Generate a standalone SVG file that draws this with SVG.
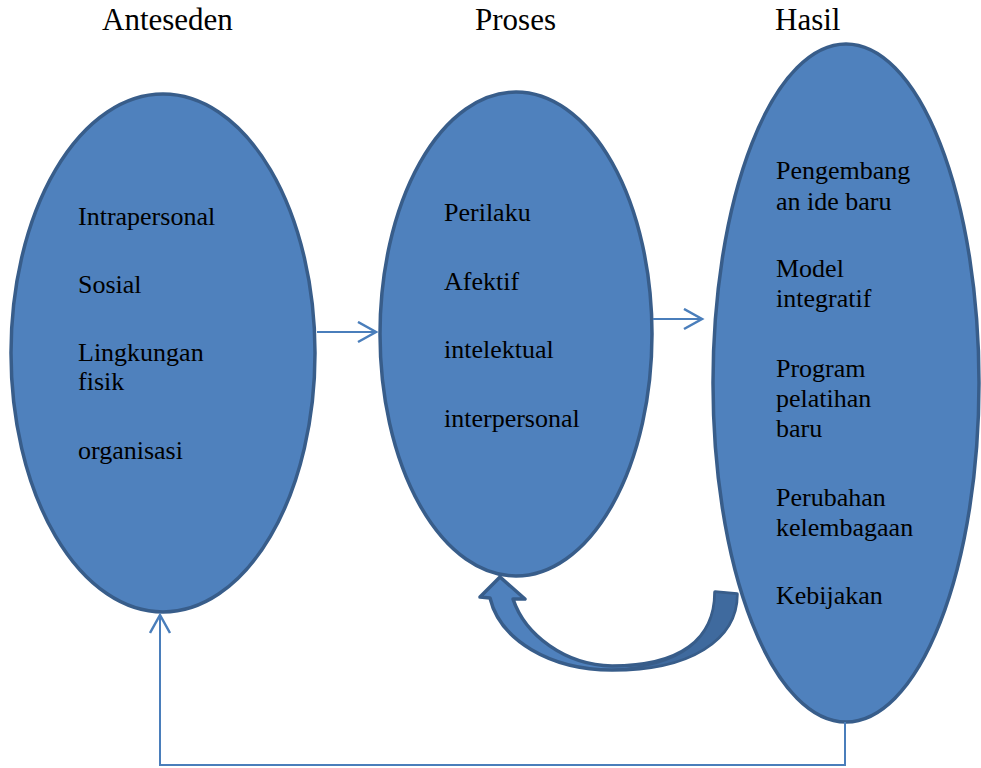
<svg xmlns="http://www.w3.org/2000/svg" width="981" height="768" viewBox="0 0 981 768">
<defs>
<style>
.node{fill:#4f81bd;stroke:#385d8a;stroke-width:3.5}
.lbl{font-family:'Liberation Serif','DejaVu Serif',serif;font-size:26px;fill:#000}
.hdr{font-family:'Liberation Serif','DejaVu Serif',serif;font-size:31px;fill:#000}
.conn{fill:none;stroke:#4a7ebb;stroke-width:2}
</style>
<marker id="open" markerWidth="22" markerHeight="24" refX="19" refY="11" orient="auto" markerUnits="userSpaceOnUse">
<path d="M1,1 L19,11 L1,21" fill="none" stroke="#4a7ebb" stroke-width="2.5"/>
</marker>
</defs>
<rect width="981" height="768" fill="#ffffff"/>
<g font-family="Liberation Serif, DejaVu Serif, serif">
<text class="hdr" x="102" y="30">Anteseden</text>
<text class="hdr" x="475" y="30">Proses</text>
<text class="hdr" x="775" y="30">Hasil</text>
</g>

<g id="anteseden" font-family="Liberation Serif, DejaVu Serif, serif">
<ellipse class="node" cx="163" cy="353" rx="152" ry="259"/>
<text class="lbl" x="78" y="225">Intrapersonal</text>
<text class="lbl" x="78" y="293">Sosial</text>
<text class="lbl" x="78" y="361">Lingkungan</text>
<text class="lbl" x="78" y="390">fisik</text>
<text class="lbl" x="78" y="459">organisasi</text>
</g>

<g id="proses" font-family="Liberation Serif, DejaVu Serif, serif">
<ellipse class="node" cx="516" cy="334" rx="136" ry="242"/>
<text class="lbl" x="444" y="221">Perilaku</text>
<text class="lbl" x="444" y="290">Afektif</text>
<text class="lbl" x="444" y="358">intelektual</text>
<text class="lbl" x="444" y="427">interpersonal</text>
</g>

<g id="hasil" font-family="Liberation Serif, DejaVu Serif, serif">
<ellipse class="node" cx="846" cy="383" rx="133" ry="339"/>
<text class="lbl" x="776" y="179">Pengembang</text>
<text class="lbl" x="776" y="210">an ide baru</text>
<text class="lbl" x="776" y="277">Model</text>
<text class="lbl" x="776" y="307">integratif</text>
<text class="lbl" x="776" y="377">Program</text>
<text class="lbl" x="776" y="407">pelatihan</text>
<text class="lbl" x="776" y="437">baru</text>
<text class="lbl" x="776" y="506">Perubahan</text>
<text class="lbl" x="776" y="536">kelembagaan</text>
<text class="lbl" x="776" y="604">Kebijakan</text>
</g>

<g id="connectors">
<line class="conn" x1="317" y1="332" x2="376" y2="332" marker-end="url(#open)"/>
<line class="conn" x1="653" y1="319" x2="702" y2="319" marker-end="url(#open)"/>
<polyline class="conn" points="845,722 845,765 160,765 160,615" marker-end="url(#open)"/>
<g id="curved-arrow">
<path d="M737,594 C737,640 690,670 612,670 C550,670 500,640 490,598 L480,597 L500,577 L525,599 L513,599 C525,635 565,665 612,666 C680,666 715,640 715,592 Z" fill="#4f81bd" stroke="#385d8a" stroke-width="3.5" stroke-linejoin="round"/>
<path d="M737,594 C737,640 690,670 612,670 C680,666 715,640 715,592 Z" fill="#3f6a9e" stroke="#385d8a" stroke-width="2" stroke-linejoin="round"/>
</g>
</g>
</svg>
